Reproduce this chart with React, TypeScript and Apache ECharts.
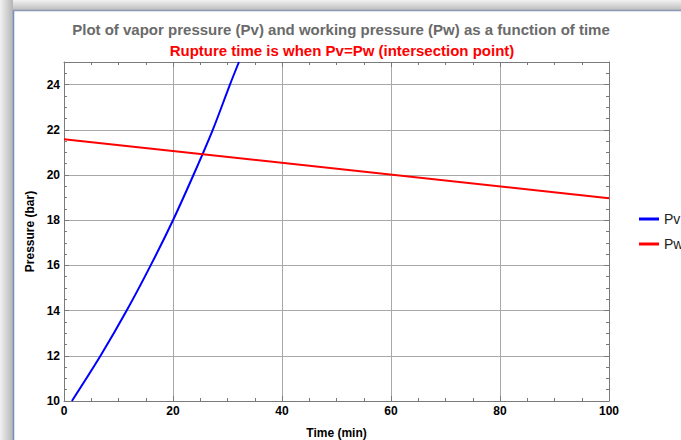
import React, { useEffect, useRef } from "react";
import * as echarts from "echarts";

const titleText = "Plot of vapor pressure (Pv) and working pressure (Pw) as a function of time";
const subtitleText = "Rupture time is when Pv=Pw (intersection point)";
const xName = "Time (min)";
const yName = "Pressure (bar)";

// Vapor pressure Pv (bar) vs time (min)
const pvTime = [1.45, 6.7, 11.5, 15.9, 20.0, 23.75, 27.3, 30.45, 32.1];
const pvValue = [10, 12, 14, 16, 18, 20, 22, 24, 25];

// Working pressure Pw (bar) vs time (min)
const pwTime = [0, 100];
const pwValue = [21.58, 18.97];

const seriesNames = ["Pv", "Pw"];
const seriesColors = ["#0000ff", "#ff0000"];

const frameColor = "#7a7a7a";
const gridColor = "#a8a8a8";

export default function App() {
  const ref = useRef<HTMLDivElement>(null);

  useEffect(() => {
    if (!ref.current) return;
    const chart = echarts.init(ref.current, null, { renderer: "svg" });

    const labelStyle = { color: "#000", fontWeight: "bold" as const, fontSize: 12, fontFamily: "Liberation Sans, Arial, sans-serif" };

    // main = labelled axis with gridlines; minor = tick-only axis
    const xBase = (pos: "bottom" | "top", main: boolean, minor: boolean) => ({
      type: "value" as const,
      position: pos,
      min: 0,
      max: 100,
      interval: minor ? 5 : 20,
      axisLine: { show: !minor, onZero: false, lineStyle: { color: frameColor, width: 1 } },
      axisTick: { show: true, inside: true, length: minor ? 3 : 5, lineStyle: { color: frameColor } },
      axisLabel: main ? { ...labelStyle, margin: 4 } : { show: false },
      splitLine: { show: main, lineStyle: { color: gridColor, width: 1 } },
      name: main ? xName : "",
      nameLocation: "middle" as const,
      nameGap: 26,
      nameTextStyle: labelStyle,
    });

    const yBase = (pos: "left" | "right", main: boolean, minor: boolean) => ({
      type: "value" as const,
      position: pos,
      min: 10,
      max: 25,
      interval: minor ? 0.5 : 2,
      axisLine: { show: !minor, onZero: false, lineStyle: { color: frameColor, width: 1 } },
      axisTick: { show: true, inside: true, length: minor ? 3 : 5, lineStyle: { color: frameColor } },
      axisLabel: main ? { ...labelStyle, margin: 4, showMaxLabel: false } : { show: false },
      splitLine: { show: main, lineStyle: { color: gridColor, width: 1 } },
      name: main ? yName : "",
      nameLocation: "middle" as const,
      nameGap: 28,
      nameTextStyle: labelStyle,
    });

    const legendText = { color: "#222", fontSize: 14, fontFamily: "Liberation Sans, Arial, sans-serif" };

    chart.setOption({
      animation: false,
      backgroundColor: "#ffffff",
      title: [
        {
          text: titleText,
          left: 336,
          top: 17,
          textAlign: "center",
          textStyle: { color: "#6a6a6a", fontWeight: "bold", fontSize: 15, fontFamily: "Liberation Sans, Arial, sans-serif" },
        },
        {
          text: subtitleText,
          left: 337,
          top: 38,
          textAlign: "center",
          textStyle: { color: "#ff0000", fontWeight: "bold", fontSize: 15, fontFamily: "Liberation Sans, Arial, sans-serif" },
        },
      ],
      grid: { left: 64, right: 72, top: 62, bottom: 39, containLabel: false, outerBoundsMode: "none" },
      xAxis: [
        xBase("bottom", true, false),
        xBase("top", false, false),
        xBase("bottom", false, true),
        xBase("top", false, true),
      ],
      yAxis: [
        yBase("left", true, false),
        yBase("right", false, false),
        yBase("left", false, true),
        yBase("right", false, true),
      ],
      legend: [
        {
          data: [seriesNames[0]],
          left: 634,
          top: 207,
          itemWidth: 20,
          itemHeight: 3,
          icon: "rect",
          itemGap: 8,
          textStyle: legendText,
        },
        {
          data: [seriesNames[1]],
          left: 634,
          top: 232,
          itemWidth: 20,
          itemHeight: 3,
          icon: "rect",
          itemGap: 8,
          textStyle: legendText,
        },
      ],
      graphic: [
        {
          type: "rect",
          z: -10,
          silent: true,
          shape: { x: 0, y: 0, width: 681, height: 10 },
          style: {
            fill: new echarts.graphic.LinearGradient(0, 0, 0, 1, [
              { offset: 0, color: "#f2f2f2" },
              { offset: 1, color: "#bdbdbd" },
            ]),
          },
        },
        {
          type: "rect",
          z: -10,
          silent: true,
          shape: { x: 0, y: 0, width: 13, height: 440 },
          style: {
            fill: new echarts.graphic.LinearGradient(0, 0, 1, 0, [
              { offset: 0, color: "#f2f2f2" },
              { offset: 1, color: "#b5b5b5" },
            ]),
          },
        },
        {
          type: "line",
          z: -5,
          silent: true,
          shape: { x1: 13.5, y1: 10, x2: 13.5, y2: 440 },
          style: { stroke: "#6f8fbf", lineWidth: 1.5 },
        },
        {
          type: "line",
          z: -5,
          silent: true,
          shape: { x1: 13, y1: 10.5, x2: 681, y2: 10.5 },
          style: { stroke: "#8a9ab5", lineWidth: 1.5 },
        },
      ],
      series: [
        {
          name: seriesNames[0],
          type: "line",
          xAxisIndex: 0,
          yAxisIndex: 0,
          data: pvTime.map((t, i) => [t, pvValue[i]]),
          smooth: 0.3,
          showSymbol: false,
          clip: true,
          color: seriesColors[0],
          lineStyle: { color: seriesColors[0], width: 2 },
        },
        {
          name: seriesNames[1],
          type: "line",
          xAxisIndex: 0,
          yAxisIndex: 0,
          data: pwTime.map((t, i) => [t, pwValue[i]]),
          showSymbol: false,
          clip: true,
          color: seriesColors[1],
          lineStyle: { color: seriesColors[1], width: 2 },
        },
      ],
    });

    return () => chart.dispose();
  }, []);

  return (
    <div
      ref={ref}
      style={{ position: "absolute", left: 0, top: 0, width: 681, height: 440 }}
    />
  );
}
